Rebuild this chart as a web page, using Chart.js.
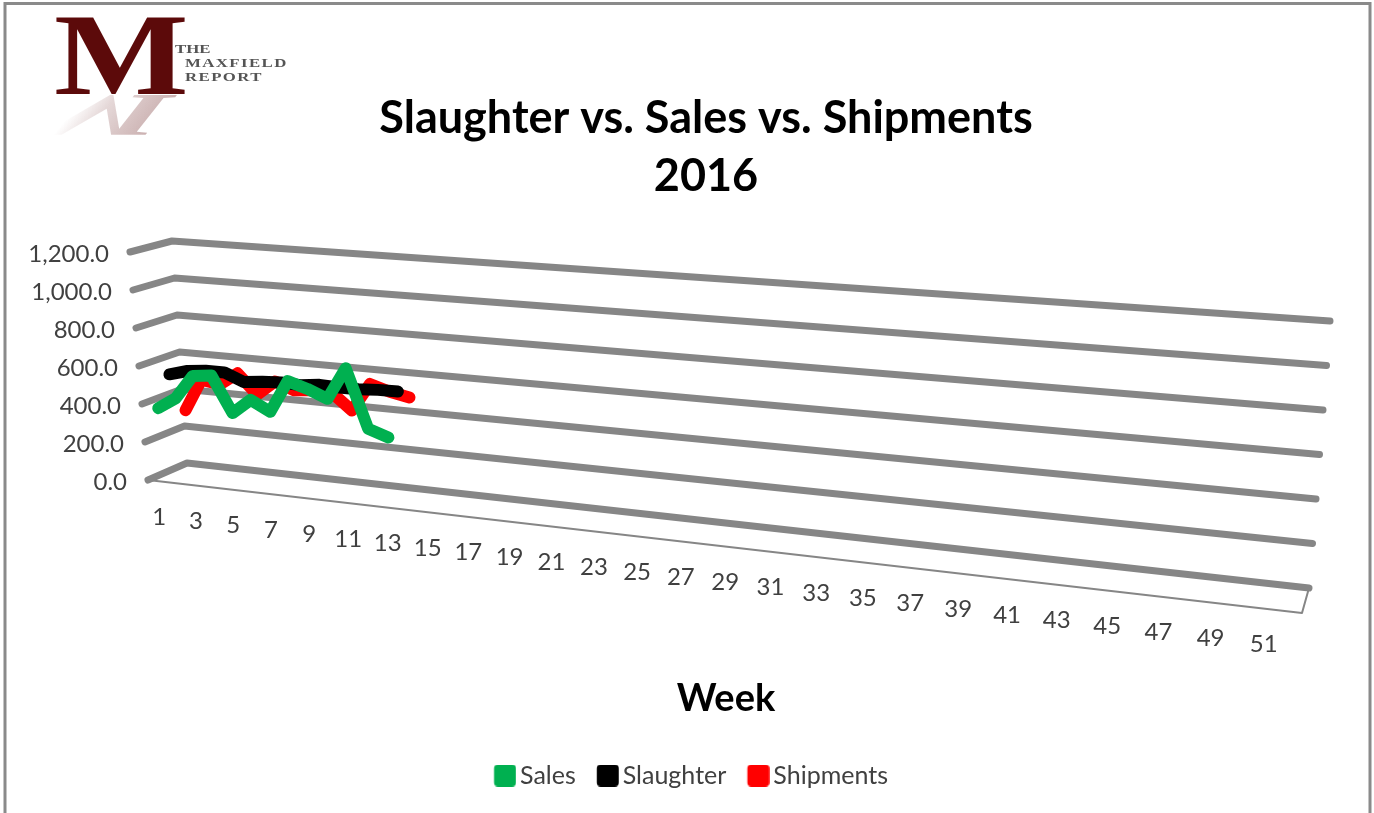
<!DOCTYPE html>
<html>
<head>
<meta charset="utf-8">
<style>html,body{margin:0;padding:0;background:#fff}canvas{display:block}</style>
<script src="https://cdn.jsdelivr.net/npm/chart.js@4"></script>
</head>
<body>
<canvas id="c" width="1374" height="813"></canvas>
<script>
const weeks = Array.from({length: 52}, (_, i) => String(i + 1));
const weekTicks = ['1','3','5','7','9','11','13','15','17','19','21','23','25','27','29','31','33','35','37','39','41','43','45','47','49','51'];
const valueTicks = [0, 200, 400, 600, 800, 1000, 1200];
const sales = [370, 432, 559, 571, 384, 463, 411, 580, 549, 508, 675, 375, 341];
const slaughter = [523, 550, 560, 561, 520, 531, 536, 532, 543, 539, 540, 546, 547];
const shipments = [304, 478, 462, 530, 426, 505, 468, 479, 474, 391, 539, 508, 488];
const seriesDepth = [1/6, 1/2, 5/6];

// Projection of the Excel-style 3D box: [value 0, value max] anchors at each corner of the floor.
const BOX = {
  frontLeft:  [[148, 480], [130, 252]],
  backLeft:   [[187, 463], [172, 241]],
  backRight:  [[1309, 588], [1330, 321]],
  frontRight: [[1302, 613], [1323, 346]],
  perspective: 1.22
};
const lerp = (a, b, k) => a + (b - a) * k;
function project(t, v, d) {
  const s = t / (t + BOX.perspective * (1 - t));
  const c = corner => [0, 1].map(i => lerp(corner[0][i], corner[1][i], v));
  const fl = c(BOX.frontLeft), bl = c(BOX.backLeft), br = c(BOX.backRight), fr = c(BOX.frontRight);
  return [0, 1].map(i => lerp(lerp(fl[i], bl[i], d), lerp(fr[i], br[i], d), s));
}
const tOf = (chart, pxX) => (pxX - chart.scales.x.left) / chart.scales.x.width;
const vOf = (chart, pxY) => (chart.scales.y.bottom - pxY) / chart.scales.y.height;

const GRID = '#868686', TXT = '#404040', FONT = 'Lato, Carlito, sans-serif';

const projection = {
  id: 'projection',
  afterDatasetsUpdate(chart) {
    chart.data.datasets.forEach((ds, i) => {
      const d = seriesDepth[i];
      chart.getDatasetMeta(i).data.forEach((pt, j) => {
        const x = chart.scales.x.getPixelForValue(j);
        const y = chart.scales.y.getPixelForValue(ds.data[j]);
        const p = project(tOf(chart, x), vOf(chart, y), d);
        pt.x = p[0]; pt.y = p[1];
      });
    });
  },
  afterLayout(chart) {
    chart.legend.left -= 15; chart.legend.right -= 15;
  },
  beforeDatasetsDraw(chart) {
    const ctx = chart.ctx, xs = chart.scales.x, ys = chart.scales.y;
    ctx.save();
    // floor outline
    const a = project(0, 0, 0), b = project(1, 0, 0), e = project(1, 0, 1);
    ctx.strokeStyle = GRID; ctx.lineWidth = 2; ctx.lineCap = 'round'; ctx.lineJoin = 'round';
    ctx.beginPath(); ctx.moveTo(a[0], a[1]); ctx.lineTo(b[0], b[1]); ctx.lineTo(e[0], e[1]); ctx.stroke();
    // gridlines
    ctx.lineWidth = 7;
    valueTicks.forEach(val => {
      const v = vOf(chart, ys.getPixelForValue(val));
      const p0 = project(0, v, 0), p1 = project(0, v, 1), p2 = project(1, v, 1);
      ctx.beginPath(); ctx.moveTo(p0[0], p0[1]); ctx.lineTo(p1[0], p1[1]); ctx.lineTo(p2[0], p2[1]); ctx.stroke();
    });
    // tick labels
    ctx.fillStyle = TXT; ctx.font = '24px ' + FONT; ctx.textBaseline = 'middle';
    ctx.textAlign = 'right';
    valueTicks.forEach(val => {
      const v = vOf(chart, ys.getPixelForValue(val));
      const p = project(0, v, 0);
      const label = val.toLocaleString('en-US', {minimumFractionDigits: 1, maximumFractionDigits: 1});
      ctx.fillText(label, p[0] - 21, p[1] + 2);
    });
    ctx.textAlign = 'center';
    weekTicks.forEach(w => {
      const t = tOf(chart, xs.getPixelForValue(weeks.indexOf(w)));
      const p = project(t, 0, 0);
      ctx.fillText(w, p[0] + 2, p[1] + 36);
    });
    ctx.restore();
  },
  beforeDraw(chart) {
    const ctx = chart.ctx;
    ctx.save();
    // picture frame
    ctx.strokeStyle = '#8a8a8a'; ctx.lineWidth = 3;
    ctx.beginPath(); ctx.moveTo(5, 813); ctx.lineTo(5, 3.5); ctx.lineTo(1370, 3.5); ctx.lineTo(1370, 813); ctx.stroke();
    // logo
    const M = 'M';
    ctx.font = 'bold 117px "Liberation Serif", serif';
    ctx.textBaseline = 'alphabetic'; ctx.textAlign = 'left';
    ctx.save();
    const g = ctx.createLinearGradient(25, 0, 165, 0);
    g.addColorStop(0, 'rgba(92,10,10,0)');
    g.addColorStop(0.2, 'rgba(92,10,10,0.16)');
    g.addColorStop(0.55, 'rgba(92,10,10,0.3)');
    g.addColorStop(1, 'rgba(92,10,10,0.5)');
    ctx.fillStyle = g;
    ctx.transform(1.12, 0, 0.41, -0.52, 57, 95);
    ctx.fillText(M, 0, 0);
    ctx.restore();
    ctx.save();
    ctx.fillStyle = '#5c0a0a';
    ctx.transform(1.22, 0, 0, 1, 54, 94);
    ctx.fillText(M, 0, 0);
    ctx.restore();
    ctx.fillStyle = '#555';
    ctx.font = 'bold 12px "Liberation Serif", serif';
    const wide = (text, x, y, spacing) => {
      ctx.save();
      ctx.letterSpacing = spacing;
      ctx.transform(1.4, 0, 0, 1, x, y);
      ctx.fillText(text, 0, 0);
      ctx.restore();
    };
    wide('THE', 175, 53, '0px');
    wide('MAXFIELD', 185, 66.5, '1px');
    wide('REPORT', 185, 80.5, '1px');
    ctx.restore();
  }
};

function legendSwatch(color) {
  const cv = document.createElement('canvas');
  cv.width = 31; cv.height = 22;
  const g = cv.getContext('2d');
  g.fillStyle = color;
  g.beginPath(); g.roundRect(8.75, 0, 22, 22, 4); g.fill();
  return cv;
}

new Chart(document.getElementById('c'), {
  type: 'line',
  data: {
    labels: weeks,
    datasets: [
      {label: 'Sales', data: sales, borderColor: '#00b050', backgroundColor: '#00b050'},
      {label: 'Slaughter', data: slaughter, borderColor: '#000000', backgroundColor: '#000000'},
      {label: 'Shipments', data: shipments, borderColor: '#ff0000', backgroundColor: '#ff0000'}
    ].map(ds => Object.assign(ds, {
      borderWidth: 12, pointRadius: 0, pointHoverRadius: 0, tension: 0,
      borderCapStyle: 'round', borderJoinStyle: 'round', fill: false, clip: false
    }))
  },
  options: {
    responsive: false,
    animation: false,
    events: [],
    layout: {padding: {left: 38, right: 0, top: 0, bottom: 15}},
    scales: {
      x: {
        type: 'category', offset: true,
        grid: {display: false}, border: {display: false},
        ticks: {display: false, autoSkip: false},
        title: {display: true, text: 'Week', color: '#000', font: {family: FONT, size: 38, weight: 'bold', lineHeight: 1.2}, padding: {top: 0, bottom: 20}}
      },
      y: {
        min: 0, max: 1200,
        grid: {display: false}, border: {display: false},
        ticks: {display: false, stepSize: 200},
        afterFit(s) { s.width = 40; }
      }
    },
    plugins: {
      title: {
        display: true,
        text: ['Slaughter vs. Sales vs. Shipments', '2016'],
        color: '#000',
        font: {family: FONT, size: 45, weight: 'bold', lineHeight: '58px'},
        padding: {top: 89, bottom: 10}
      },
      legend: {
        display: true, position: 'bottom', align: 'center',
        labels: {
          color: TXT, font: {family: FONT, size: 25}, padding: 21,
          usePointStyle: true, pointStyleWidth: 13.5, boxHeight: 22,
          generateLabels(chart) {
            return chart.data.datasets.map((ds, i) => ({
              text: ds.label, fontColor: TXT, lineWidth: 0, strokeStyle: 'transparent',
              fillStyle: ds.backgroundColor, pointStyle: legendSwatch(ds.backgroundColor), datasetIndex: i
            }));
          }
        }
      },
      tooltip: {enabled: false}
    }
  },
  plugins: [projection]
});
</script>
</body>
</html>
